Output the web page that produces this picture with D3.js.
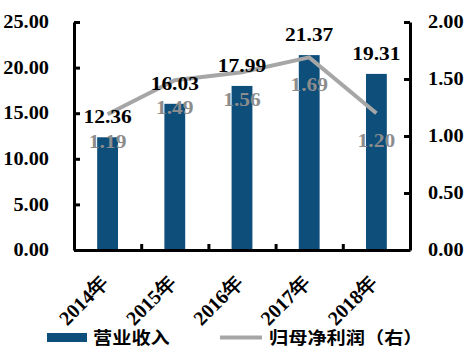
<!DOCTYPE html>
<html>
<head>
<meta charset="utf-8">
<script src="https://cdn.jsdelivr.net/npm/d3@7"></script>
<style>
  body { margin: 0; background: #fff; }
  svg { display: block; }
</style>
</head>
<body>
<div id="chart-area"></div>
<script>
// data
const years = ["2014年", "2015年", "2016年", "2017年", "2018年"];
const revenue = [12.36, 16.03, 17.99, 21.37, 19.31];
const profit = [1.19, 1.49, 1.56, 1.69, 1.20];
const leftTicks = [0, 5, 10, 15, 20, 25];
const rightTicks = [0, 0.5, 1, 1.5, 2];
const seriesNames = ["营业收入", "归母净利润（右）"];

const W = 473, H = 354;
const margin = { top: 22, right: 63, bottom: 104, left: 74 };
const width = W - margin.left - margin.right,
  height = H - margin.top - margin.bottom;

const serif = "'Times New Roman', 'Liberation Serif', serif";
const cjk = "'Noto Sans CJK SC', sans-serif";
const sx = 1.13; // picture looks a bit stretched sideways

const barColor = "#0d4e7b";
const lineColor = "#a6a6a6";
const lineLabel = "#8c8c8c";

let svg = d3.select("#chart-area").append("svg")
  .attr("width", W).attr("height", H)
  .append("g")
  .attr("transform", "translate(" + margin.left + "," + margin.top + ")");

let x = d3.scaleBand().domain(years).range([0, width])
  .paddingInner(0.69).paddingOuter(0.345);
let yL = d3.scaleLinear().domain([0, 25]).range([height, 0]);
let yR = d3.scaleLinear().domain([0, 2]).range([height, 0]);
let xPos = d3.scaleLinear().domain([0, years.length]).range([0, width]);

// place a text at (tx,ty) and stretch it sideways
function stretchAt(t, tx, ty) {
  t.attr("x", 0).attr("y", 0)
    .attr("transform", "translate(" + tx + "," + ty + ") scale(" + sx + ",1)");
}

// bars
svg.selectAll(".bar").data(revenue).enter().append("rect")
  .attr("class", "bar")
  .attr("x", (d, i) => x(years[i]))
  .attr("y", d => yL(d))
  .attr("width", x.bandwidth())
  .attr("height", d => height - yL(d))
  .attr("fill", barColor);

// line
const cx = (d, i) => x(years[i]) + x.bandwidth() / 2;
svg.append("path").datum(profit)
  .attr("fill", "none")
  .attr("stroke", lineColor)
  .attr("stroke-width", 4)
  .attr("d", d3.line().x(cx).y(d => yR(d)));

// axes
svg.append("g").attr("class", "axis")
  .call(d3.axisLeft(yL).tickValues(leftTicks).tickFormat(d3.format(".2f"))
    .tickSizeInner(-6).tickSizeOuter(0).tickPadding(25));
svg.append("g").attr("class", "axis")
  .attr("transform", "translate(" + width + ",0)")
  .call(d3.axisRight(yR).tickValues(rightTicks).tickFormat(d3.format(".2f"))
    .tickSizeInner(-6).tickSizeOuter(0).tickPadding(18));
svg.append("g").attr("class", "axis")
  .attr("transform", "translate(0," + height + ")")
  .call(d3.axisBottom(xPos).tickValues([1, 2, 3, 4]).tickFormat("")
    .tickSizeInner(-6).tickSizeOuter(0));

svg.selectAll(".axis path, .axis line")
  .attr("stroke", "#000")
  .attr("stroke-width", 3);

svg.selectAll(".axis text")
  .attr("font-family", serif)
  .attr("font-weight", "bold")
  .attr("font-size", 18)
  .attr("fill", "#000")
  .each(function () {
    const t = d3.select(this);
    stretchAt(t, +t.attr("x") || 0, 0);
  });

// category labels, rotated
let xLab = svg.append("g")
  .attr("transform", "translate(0," + height + ")")
  .call(d3.axisBottom(x).tickSize(0).tickPadding(0));
xLab.select(".domain").remove();
xLab.selectAll("text")
  .attr("font-family", serif)
  .attr("font-weight", "bold")
  .attr("font-size", 20)
  .attr("fill", "#000")
  .attr("text-anchor", "end")
  .attr("dy", null)
  .attr("y", 0)
  .attr("transform", "translate(2,34) rotate(-45)");

// bar value labels
svg.selectAll(".bar-label").data(revenue).enter().append("text")
  .attr("class", "bar-label")
  .attr("text-anchor", "middle")
  .attr("font-family", serif)
  .attr("font-weight", "bold")
  .attr("font-size", 19)
  .attr("fill", "#000")
  .text(d => d.toFixed(2))
  .each(function (d, i) {
    stretchAt(d3.select(this), cx(d, i), yL(d) - 14);
  });

// line value labels
svg.selectAll(".line-label").data(profit).enter().append("text")
  .attr("class", "line-label")
  .attr("text-anchor", "middle")
  .attr("font-family", serif)
  .attr("font-weight", "bold")
  .attr("font-size", 19)
  .attr("fill", lineLabel)
  .text(d => d.toFixed(2))
  .each(function (d, i) {
    stretchAt(d3.select(this), cx(d, i), yR(d) + 34);
  });

// legend
let legend = d3.select("svg").append("g");
legend.append("rect")
  .attr("x", 47).attr("y", 333).attr("width", 40).attr("height", 9)
  .attr("fill", barColor);
legend.append("line")
  .attr("x1", 220).attr("x2", 262).attr("y1", 337.5).attr("y2", 337.5)
  .attr("stroke", lineColor).attr("stroke-width", 4);
legend.selectAll("text").data(seriesNames).enter().append("text")
  .attr("transform", (d, i) => "translate(" + (i ? 269 : 93) + ",344) scale(" + sx + ",1)")
  .attr("font-family", cjk)
  .attr("font-weight", "bold")
  .attr("font-size", 17)
  .attr("fill", "#000")
  .text(d => d);
</script>
</body>
</html>
